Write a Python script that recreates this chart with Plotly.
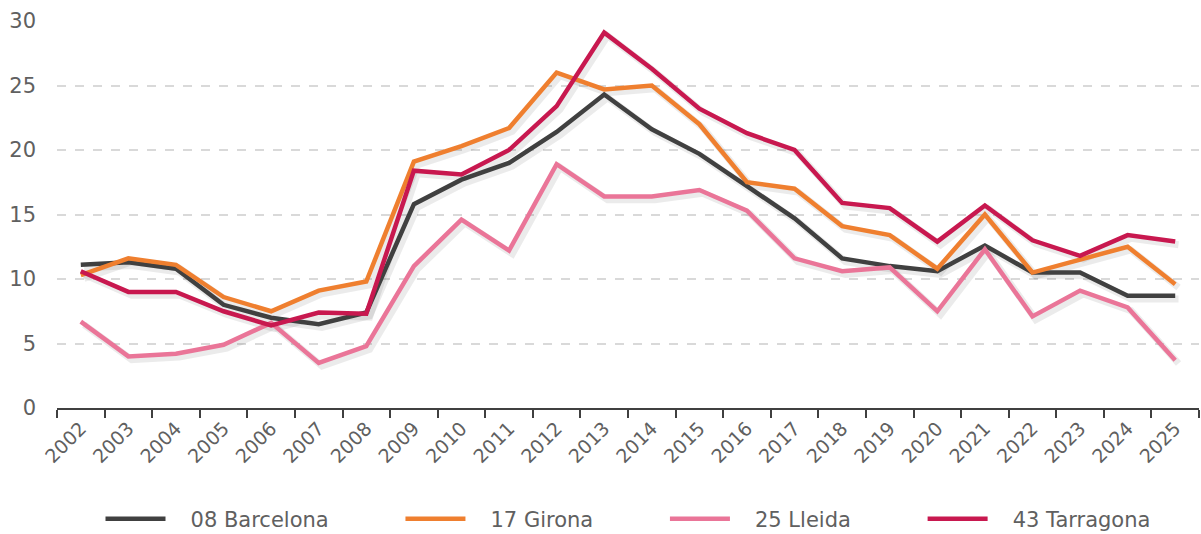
import plotly.graph_objects as go

years = [str(y) for y in range(2002, 2026)]

barcelona = [11.1, 11.3, 10.8, 8.0, 7.0, 6.5, 7.4, 15.8, 17.7, 19.0, 21.4, 24.3, 21.6, 19.7, 17.2, 14.7,
             11.6, 11.0, 10.6, 12.6, 10.5, 10.5, 8.7, 8.7]
girona = [10.3, 11.6, 11.1, 8.6, 7.5, 9.1, 9.8, 19.1, 20.3, 21.7, 26.0, 24.7, 25.0, 22.0, 17.5, 17.0,
          14.1, 13.4, 10.8, 15.0, 10.5, 11.5, 12.5, 9.6]
lleida = [6.7, 4.0, 4.2, 4.9, 6.6, 3.5, 4.8, 11.0, 14.6, 12.2, 18.9, 16.4, 16.4, 16.9, 15.3, 11.6,
          10.6, 10.9, 7.5, 12.3, 7.1, 9.1, 7.8, 3.7]
tarragona = [10.6, 9.0, 9.0, 7.5, 6.4, 7.4, 7.3, 18.4, 18.1, 20.0, 23.4, 29.1, 26.3, 23.2, 21.3, 20.0,
             15.9, 15.5, 12.9, 15.7, 13.0, 11.8, 13.4, 12.9]

series = [
    ("08 Barcelona", barcelona, "#404040"),
    ("17 Girona", girona, "#ef7f2f"),
    ("25 Lleida", lleida, "#ea7598"),
    ("43 Tarragona", tarragona, "#c8184f"),
]

font_family = "'DejaVu Sans', sans-serif"
grey = "#606060"
lead = "\u00a0" * 3    # hueco entre la muestra y el texto de la leyenda
trail = "\u00a0" * 10  # hueco entre entradas de la leyenda

fig = go.Figure()

# sombras: mismos datos en los ejes base, desplazados unos px (abajo-derecha)
for name, vals, color in series:
    fig.add_trace(go.Scatter(
        x=years, y=vals, mode="lines", showlegend=False, hoverinfo="skip",
        line=dict(color="rgba(0,0,0,0.08)", width=7),
        xaxis="x", yaxis="y",
    ))

# series reales en los ejes superpuestos
for i, (name, vals, color) in enumerate(series):
    label = lead + name + (trail if i < len(series) - 1 else "")
    fig.add_trace(go.Scatter(
        x=years, y=vals, name=label, mode="lines",
        line=dict(color=color, width=4.5),
        xaxis="x2", yaxis="y2",
    ))

fig.update_layout(
    width=1201, height=534,
    margin=dict(l=57, r=2, t=21, b=126, autoexpand=False),
    paper_bgcolor="white", plot_bgcolor="white",
    font=dict(family=font_family, color=grey),
    showlegend=True,
    legend=dict(
        orientation="h", x=0.5, xanchor="center", y=-0.287, yanchor="middle",
        font=dict(size=21, color=grey), itemwidth=60,
    ),
    xaxis=dict(type="category", range=[-0.5 - 0.07, 23.5 - 0.07], visible=False, automargin=False),
    yaxis=dict(range=[0.25, 30.25], visible=False, automargin=False),
    xaxis2=dict(
        type="category", overlaying="x", anchor="y2", side="bottom", range=[-0.5, 23.5],
        tickson="boundaries", ticks="outside", ticklen=8,
        tickcolor="#404040", tickwidth=1.5,
        showline=True, linecolor="#404040", linewidth=2,
        showgrid=False, tickangle=-45, tickfont=dict(size=19, color=grey),
        automargin=False,
    ),
    yaxis2=dict(
        overlaying="y", anchor="x2", side="left",
        range=[0, 30], dtick=5, showline=False, zeroline=False,
        showgrid=True, gridcolor="#d9d9d9", gridwidth=1.5, griddash="dash",
        tickfont=dict(size=21, color=grey), ticklabelstandoff=20,
        automargin=False,
    ),
)

fig.write_html("out.html", config={"displayModeBar": False},
               post_script="document.body.style.margin = '0';")
